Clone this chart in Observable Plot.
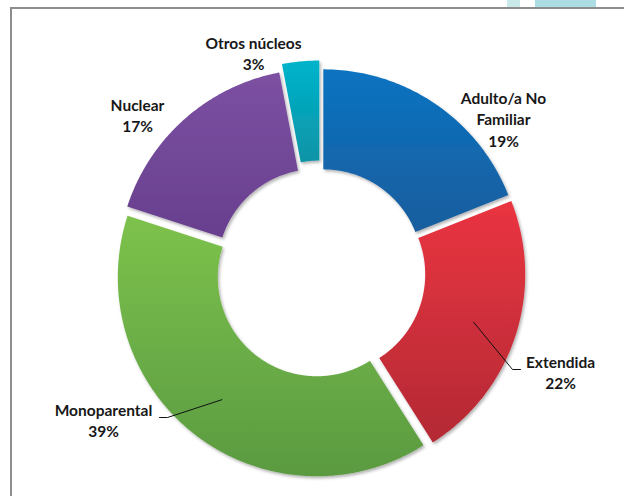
<!DOCTYPE html>
<html>
<head>
<meta charset="utf-8">
<script src="https://cdn.jsdelivr.net/npm/d3@7"></script>
<script src="https://cdn.jsdelivr.net/npm/@observablehq/plot@0.6"></script>
<style>
  body { margin: 0; background: #fff; }
  #wrap { position: relative; width: 624px; height: 496px; overflow: hidden; background: #fff; }
  .frame { position: absolute; left: 10px; top: 7px; width: 700px; height: 600px;
           border-top: 2px solid #8d8d8d; border-left: 2px solid #8d8d8d; }
  .tab1 { position: absolute; left: 507px; top: 0; width: 13px; height: 7px; background: #c9eae9; }
  .tab2 { position: absolute; left: 535px; top: 0; width: 61px; height: 7px; background: #acdde3; }
  #chart { position: absolute; left: 0; top: 0; }
</style>
</head>
<body>
<div id="wrap">
  <div class="tab1"></div><div class="tab2"></div>
  <div class="frame"></div>
  <div id="chart"></div>
</div>
<script>
// ---- data ----
const categories = ["Adulto/a No Familiar", "Extendida", "Monoparental", "Nuclear", "Otros núcleos"];
const labelNames = ["Adulto/a No\nFamiliar", "Extendida", "Monoparental", "Nuclear", "Otros núcleos"];
const values = [19, 22, 39, 17, 3];
const colorsTop = ["#0a73c1", "#ea3441", "#7dc24c", "#7c50a2", "#00b4cb"];
const colorsBottom = ["#1a5d9d", "#b32a34", "#5a9a41", "#683f8e", "#0c93a6"];

// ---- layout ----
const W = 624, H = 496;
const cx = 320, cy = 272, R = 199, r = 99;
const explode = [5, 6, 6, 6, 13];
// label block centers (page px) and leader usage
const labelPos = [
  {x: 503, y: 118, leader: false},
  {x: 560, y: 371, leader: true, elbowX: 512, endX: 520},
  {x: 103, y: 419, leader: true, elbowX: 167, endX: 159},
  {x: 137, y: 114, leader: false},
  {x: 253, y: 52, leader: false}
];

const arcs = d3.pie().sort(null).value(d => d)(values);

const slices = arcs.map((a, i) => {
  const mid = (a.startAngle + a.endAngle) / 2;
  const ox = cx + explode[i] * Math.sin(mid);
  const oy = cy - explode[i] * Math.cos(mid);
  const n = Math.max(4, Math.ceil((a.endAngle - a.startAngle) / 0.008));
  const pts = [];
  for (let k = 0; k <= n; k++) {
    const t = a.startAngle + (a.endAngle - a.startAngle) * k / n;
    pts.push({x: ox + R * Math.sin(t), y: oy - R * Math.cos(t)});
  }
  for (let k = n; k >= 0; k--) {
    const t = a.startAngle + (a.endAngle - a.startAngle) * k / n;
    pts.push({x: ox + r * Math.sin(t), y: oy - r * Math.cos(t)});
  }
  const rm = (R + r) / 2 + 6;
  const centroid = {x: ox + rm * Math.sin(mid), y: oy - rm * Math.cos(mid)};
  return {i, pts, centroid};
});

const labels = categories.map((c, i) => ({
  text: labelNames[i] + "\n" + values[i] + "%",
  x: labelPos[i].x, y: labelPos[i].y
}));

const leaders = [];
slices.forEach((s, i) => {
  const lp = labelPos[i];
  if (!lp.leader) return;
  const ly = lp.y - 2;
  leaders.push({k: i, x: s.centroid.x, y: s.centroid.y});
  leaders.push({k: i, x: lp.elbowX, y: ly});
  leaders.push({k: i, x: lp.endX, y: ly});
});

const marks = slices.map(s =>
  Plot.line(s.pts, {x: "x", y: "y", fill: `url(#grad${s.i})`, stroke: "none", curve: "linear"})
);
marks.push(Plot.line(leaders, {x: "x", y: "y", z: "k", stroke: "#111", strokeWidth: 1}));
marks.push(Plot.text(labels, {
  x: "x", y: "y", text: "text", lineAnchor: "middle", lineHeight: 1.38,
  fontSize: 15.5, fontWeight: "bold", fill: "#181818", textAnchor: "middle",
  fontFamily: "Lato, 'Open Sans', sans-serif"
}));

const svg = Plot.plot({
  width: W, height: H,
  margin: 0,
  style: {background: "transparent", fontFamily: "Lato, sans-serif"},
  x: {domain: [0, W], range: [0, W], axis: null},
  y: {domain: [0, H], range: [0, H], axis: null},
  marks
});

const defs = d3.select(svg).insert("defs", ":first-child");
colorsTop.forEach((c, i) => {
  const g = defs.append("linearGradient").attr("id", `grad${i}`)
    .attr("x1", 0).attr("y1", 0).attr("x2", 0).attr("y2", 1);
  g.append("stop").attr("offset", "0%").attr("stop-color", c);
  g.append("stop").attr("offset", "100%").attr("stop-color", colorsBottom[i]);
});
const f = defs.append("filter").attr("id", "shadow")
  .attr("x", "-10%").attr("y", "-10%").attr("width", "130%").attr("height", "130%");
f.append("feDropShadow").attr("dx", 1.5).attr("dy", 2).attr("stdDeviation", 1.8)
  .attr("flood-color", "#000").attr("flood-opacity", 0.3);
d3.select(svg).selectAll("g[fill^='url(#grad']").attr("filter", "url(#shadow)");

document.getElementById("chart").appendChild(svg);
</script>
</body>
</html>
